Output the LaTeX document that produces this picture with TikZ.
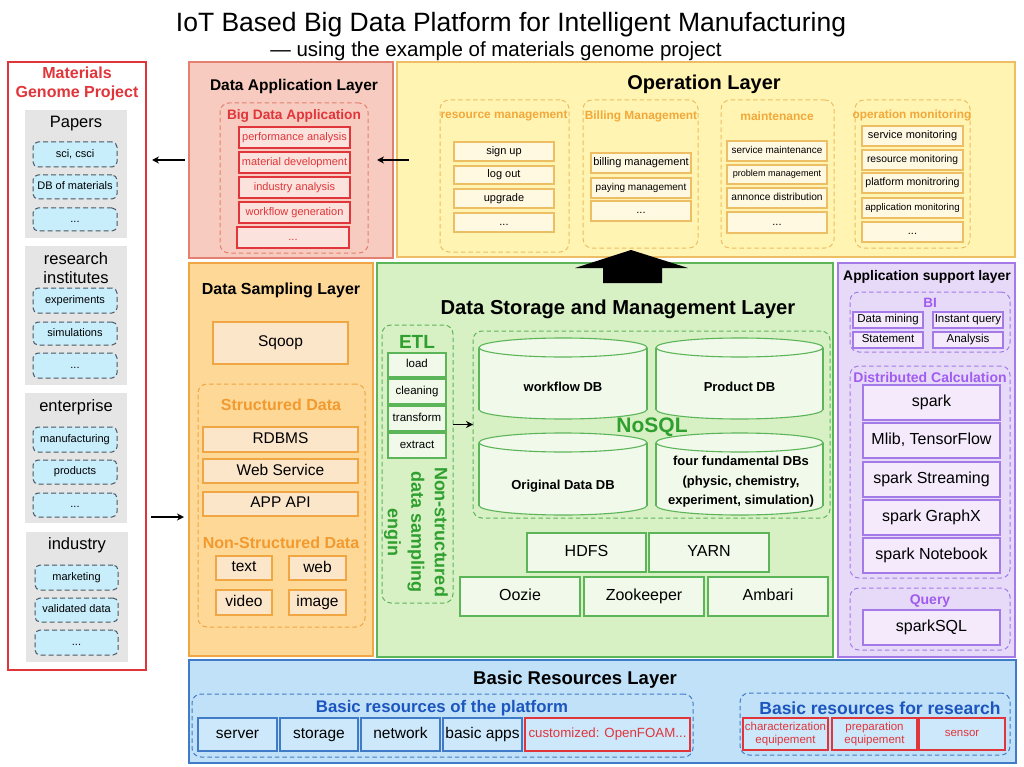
\documentclass[tikz,border=0pt]{standalone}
\usepackage{fontspec}
\setmainfont{Liberation Sans}
\usetikzlibrary{arrows.meta}
\newcommand\fsz[2]{\fontsize{#1}{#2}\selectfont}
\newcommand\bx[7]{\node[#1, minimum width={(#5-#3)*1pt}, minimum height={(#6-#4)*1pt}] (#2) at ({(#3+#5)/2},{(#4+#6)/2}) {\vphantom{Apg}#7};}
\newcommand\cylshape[4]{%
 \pgfmathsetmacro\cx{(#1+#3)/2}\pgfmathsetmacro\rx{(#3-#1)/2}%
 \pgfmathsetmacro\ya{#2+9.5}\pgfmathsetmacro\yb{#4-9.5}%
 \filldraw[cyl] (\cx,\yb) ellipse [x radius=\rx pt, y radius=9.5pt];
 \fill[gnI] (#1,\ya) rectangle (#3,\yb);
 \draw[cyl] (#1,\ya) -- (#1,\yb) (#3,\ya) -- (#3,\yb);
 \filldraw[cyl] (\cx,\ya) ellipse [x radius=\rx pt, y radius=9.5pt];
}
\definecolor{opF}{HTML}{FFF4B2}
\definecolor{opD}{HTML}{EDBE63}
\definecolor{opI}{HTML}{FFF9E2}
\definecolor{opT}{HTML}{F2A83A}
\definecolor{apF}{HTML}{F8CBC0}
\definecolor{apD}{HTML}{E3806F}
\definecolor{apI}{HTML}{FBE2DC}
\definecolor{redA}{HTML}{E0353A}
\definecolor{smF}{HTML}{FDD897}
\definecolor{smD}{HTML}{F0A642}
\definecolor{smI}{HTML}{FCE6CA}
\definecolor{smT}{HTML}{F39A2F}
\definecolor{gnF}{HTML}{D7F0C4}
\definecolor{gnD}{HTML}{5DB559}
\definecolor{gnI}{HTML}{F0F9EA}
\definecolor{gnT}{HTML}{2F9F2F}
\definecolor{puF}{HTML}{E7DAF8}
\definecolor{puD}{HTML}{A47AE8}
\definecolor{puI}{HTML}{F4EAFC}
\definecolor{puT}{HTML}{A05CF0}
\definecolor{blF}{HTML}{C1E1F9}
\definecolor{blD}{HTML}{3F7BC6}
\definecolor{blI}{HTML}{CDE8FB}
\definecolor{blT}{HTML}{1C55BE}
\definecolor{grF}{HTML}{E5E5E5}
\definecolor{cyF}{HTML}{C8EEFC}
\definecolor{cyD}{HTML}{4B5561}
\begin{document}
\begin{tikzpicture}[x=1pt,y=-1pt,
 every node/.style={inner sep=0pt, outer sep=0pt, align=center},
 lay/.style n args={2}{draw=#2, fill=#1, line width=1.1pt},
 grp/.style={draw=#1, dash pattern=on 4.5pt off 3pt, rounded corners=9pt, line width=1pt},
 itm/.style n args={3}{draw=#2, fill=#1, text=#3, line width=1.1pt},
 ltitle/.style={font=\bfseries\fsz{#1}{#1}},
 gtitle/.style={font=\fsz{16.5}{19.5}},
 cyit/.style={draw=cyD, fill=cyF, dash pattern=on 5pt off 3pt, rounded corners=5pt, line width=1pt, font=\fsz{11}{13}},
 apit/.style={itm={apI}{redA}{redA}, font=\fsz{11}{13}},
 opit/.style={itm={opI}{opD}{black}, font=\fsz{11}{13}},
 smit/.style={itm={smI}{smD}{black}, font=\fsz{15.5}{18}},
 gnit/.style={itm={gnI}{gnD}{black}, font=\fsz{16}{18}},
 puit/.style={itm={puI}{puD}{black}, font=\fsz{16}{18}},
 blit/.style={itm={blI}{blD}{black}, font=\fsz{15.5}{18}},
 rdit/.style={itm={blI}{redA}{redA}, font=\fsz{11.5}{13.5}},
 cyl/.style={draw=gnD, fill=gnI, line width=1.1pt},
 arr/.style={-{Stealth[length=7pt,width=7pt]}, line width=1.3pt}]
\useasboundingbox (0,0) rectangle (1024,767);
\fill[white] (0,0) rectangle (1024,767);

% titles
\node[anchor=base, font=\fsz{26.5}{30}] (title) at (511,32) {IoT Based Big Data Platform for Intelligent Manufacturing};
\node[anchor=base, font=\fsz{20.5}{24}] (subtitle) at (496,57) {— using the example of materials genome project};

% Materials Genome Project
\bx{lay={white}{redA}}{mgp}{8}{62}{146}{670}{}
\node[font=\bfseries\fsz{16}{19}, text=redA] (mgpt) at (77,84) {Materials\\Genome Project};
\bx{fill=grF}{papers}{25}{110}{127}{238}{}
\node[gtitle] (paperst) at (76,124) {Papers};
\bx{cyit}{p1}{33}{142}{117}{167}{sci, csci}
\bx{cyit}{p2}{33}{175}{117}{199}{DB of materials}
\bx{cyit}{p3}{33}{208}{117}{231}{...}
\bx{fill=grF}{research}{25}{246}{127}{385}{}
\node[gtitle] (researcht) at (76,268) {research\\institutes};
\bx{cyit}{r1}{33}{288}{117}{313}{experiments}
\bx{cyit}{r2}{33}{322}{117}{345}{simulations}
\bx{cyit}{r3}{33}{353}{117}{378}{...}
\bx{fill=grF}{enterprise}{25}{393}{127}{523}{}
\node[gtitle] (enterpriset) at (76,407) {enterprise};
\bx{cyit}{e1}{33}{427}{117}{452}{manufacturing}
\bx{cyit}{e2}{33}{460}{117}{484}{products}
\bx{cyit}{e3}{33}{493}{117}{517}{...}
\bx{fill=grF}{industry}{26}{532}{128}{662}{}
\node[gtitle] (industryt) at (77,545) {industry};
\bx{cyit}{i1}{35}{565}{118}{590}{marketing}
\bx{cyit}{i2}{35}{598}{118}{622}{validated data}
\bx{cyit}{i3}{35}{630}{118}{655}{...}

% Data Application Layer
\bx{lay={apF}{apD}}{dal}{189}{62}{393}{258}{}
\node[ltitle=15.5] (dalt) at (294,86) {Data Application Layer};
\bx{grp=apD}{bda}{220}{103}{368}{253}{}
\node[ltitle=13.7, text=redA] (bdat) at (294,116) {Big Data Application};
\bx{apit}{a1}{239}{127}{350}{148}{performance analysis}
\bx{apit}{a2}{239}{152}{350}{173}{material development}
\bx{apit}{a3}{239}{177}{350}{198}{industry analysis}
\bx{apit}{a4}{239}{202}{350}{223}{workflow generation}
\bx{apit}{a5}{237}{227}{349}{248}{...}

% Operation Layer
\bx{lay={opF}{opD}}{opl}{397}{62}{1015}{257}{}
\node[ltitle=20] (oplt) at (704,84) {Operation Layer};
\bx{grp=opD}{rm}{440}{100}{569}{252}{}
\node[ltitle=11.9, text=opT] (rmt) at (504,116) {resource management};
\bx{opit}{rm1}{454}{142}{554}{161}{sign up}
\bx{opit}{rm2}{454}{166}{554}{184}{log out}
\bx{opit}{rm3}{454}{189}{554}{208}{upgrade}
\bx{opit}{rm4}{454}{213}{554}{232}{...}
\bx{grp=opD}{bm}{583}{100}{698}{248}{}
\node[ltitle=11.9, text=opT] (bmt) at (641,116) {Billing Management};
\bx{opit}{bm1}{591}{153}{691}{173}{billing management}
\bx{opit,font=\fsz{10}{12}}{bm2}{591}{178}{691}{198}{paying management}
\bx{opit}{bm3}{591}{201}{691}{221}{...}
\bx{grp=opD}{mt}{721}{100}{834}{248}{}
\node[ltitle=12, text=opT] (mtt) at (777,116) {maintenance};
\bx{opit,font=\fsz{9.9}{12}}{mt1}{727}{141}{827}{161}{service maintenance}
\bx{opit,font=\fsz{9.1}{11}}{mt2}{727}{165}{827}{184}{problem management}
\bx{opit,font=\fsz{10.2}{12}}{mt3}{727}{188}{827}{208}{annonce distribution}
\bx{opit}{mt4}{727}{212}{827}{233}{...}
\bx{grp=opD}{om}{855}{100}{970}{248}{}
\node[ltitle=11.8, text=opT] (omt) at (912,115) {operation monitoring};
\bx{opit}{om1}{862}{126}{963}{146}{service monitoring}
\bx{opit,font=\fsz{10.3}{12}}{om2}{862}{150}{963}{170}{resource monitoring}
\bx{opit,font=\fsz{10.6}{12}}{om3}{862}{173}{963}{193}{platform monitroring}
\bx{opit,font=\fsz{9.7}{12}}{om4}{862}{198}{963}{218}{application monitoring}
\bx{opit}{om5}{862}{222}{963}{242}{...}

% Data Sampling Layer
\bx{lay={smF}{smD}}{dsl}{189}{263}{373}{656}{}
\node[ltitle=16] (dslt) at (281,290) {Data Sampling Layer};
\bx{smit}{sqoop}{213}{322}{348}{364}{Sqoop}
\bx{grp=smD}{sdg}{198}{384}{365}{627}{}
\node[ltitle=16, text=smT] (sdt) at (281,405) {Structured Data};
\bx{smit}{s1}{203}{427}{358}{452}{RDBMS}
\bx{smit}{s2}{203}{459}{358}{483}{Web Service}
\bx{smit}{s3}{203}{492}{358}{516}{APP API}
\node[ltitle=16, text=smT] (nsdt) at (281,543) {Non-Structured Data};
\bx{smit}{n1}{216}{556}{272}{580}{text}
\bx{smit}{n2}{289}{556}{346}{580}{web}
\bx{smit}{n3}{216}{590}{272}{615}{video}
\bx{smit}{n4}{289}{590}{346}{615}{image}

% Data Storage and Management Layer
\bx{lay={gnF}{gnD}}{dsm}{377}{263}{833}{657}{}
\node[ltitle=20.2] (dsmt) at (618,309) {Data Storage and Management Layer};
\bx{grp=gnD}{etl}{382}{325}{453}{603}{}
\node[ltitle=19, text=gnT] (etlt) at (417,342) {ETL};
\bx{gnit,font=\fsz{11.5}{13}}{etl1}{388}{353}{446}{377}{load}
\bx{gnit,font=\fsz{11.5}{13}}{etl2}{388}{379}{446}{404}{cleaning}
\bx{gnit,font=\fsz{11.5}{13}}{etl3}{388}{406}{446}{431}{transform}
\bx{gnit,font=\fsz{11.5}{13}}{etl4}{388}{433}{446}{458}{extract}
\node[rotate=-90, font=\bfseries\fsz{18}{23.5}, text=gnT] (nsde) at (416,532) {Non-structured\\data sampling\\engin};
\bx{grp=gnD}{nosql}{473}{331}{830}{518}{}
\cylshape{479}{338}{647}{419}
\cylshape{656}{338}{823}{419}
\cylshape{479}{433}{647}{515}
\cylshape{656}{433}{823}{515}
\node[font=\bfseries\fsz{13}{16}] (wfdb) at (563,387) {workflow DB};
\node[font=\bfseries\fsz{13}{16}] (proddb) at (739.5,387) {Product DB};
\node[font=\bfseries\fsz{13}{16}] (origdb) at (563,486) {Original Data DB};
\node[font=\bfseries\fsz{13}{19.5}] (fourdb) at (741,482) {four fundamental DBs\\(physic, chemistry,\\experiment, simulation)};
\node[ltitle=21, text=gnT] (nosqlt) at (652,427) {NoSQL};
\bx{gnit}{hdfs}{527}{533}{646}{572}{HDFS}
\bx{gnit}{yarn}{649}{533}{769}{572}{YARN}
\bx{gnit}{oozie}{460}{577}{580}{616}{Oozie}
\bx{gnit}{zoo}{584}{577}{704}{616}{Zookeeper}
\bx{gnit}{ambari}{708}{577}{828}{616}{Ambari}

% Application support layer
\bx{lay={puF}{puD}}{asl}{838}{263}{1015}{657}{}
\node[ltitle=13.9] (aslt) at (927,277) {Application support layer};
\bx{grp=puD}{bi}{850}{292}{1010}{352}{}
\node[ltitle=13.5, text=puT] (bit) at (930,303) {BI};
\bx{puit,font=\fsz{11.5}{13}}{bi1}{853}{312}{923}{328}{Data mining}
\bx{puit,font=\fsz{11.5}{13}}{bi2}{933}{312}{1003}{328}{Instant query}
\bx{puit,font=\fsz{11.5}{13}}{bi3}{853}{332}{923}{348}{Statement}
\bx{puit,font=\fsz{11.5}{13}}{bi4}{933}{332}{1003}{348}{Analysis}
\bx{grp=puD}{dc}{850}{366}{1010}{578}{}
\node[ltitle=14, text=puT] (dct) at (930,377) {Distributed Calculation};
\bx{puit}{dc1}{863}{385}{1000}{420}{spark}
\bx{puit}{dc2}{863}{423}{1000}{458}{Mlib, TensorFlow}
\bx{puit}{dc3}{863}{462}{1000}{497}{spark Streaming}
\bx{puit}{dc4}{863}{500}{1000}{535}{spark GraphX}
\bx{puit}{dc5}{863}{538}{1000}{573}{spark Notebook}
\bx{grp=puD}{qry}{850}{588}{1010}{650}{}
\node[ltitle=14, text=puT] (qryt) at (930,601) {Query};
\bx{puit}{sql}{863}{610}{1000}{645}{sparkSQL}

% Basic Resources Layer
\bx{lay={blF}{blD}}{brl}{189}{660}{1016}{763}{}
\node[ltitle=18.5] (brlt) at (575,680) {Basic Resources Layer};
\bx{grp=blD}{plat}{192}{694}{693}{757}{}
\node[ltitle=16.8, text=blT] (platt) at (442,708) {Basic resources of the platform};
\bx{blit}{b1}{198}{718}{277}{751}{server}
\bx{blit}{b2}{280}{718}{358}{751}{storage}
\bx{blit}{b3}{361}{718}{440}{751}{network}
\bx{blit}{b4}{443}{718}{522}{751}{basic apps}
\bx{rdit,font=\fsz{13.3}{15}}{b5}{525}{718}{690}{751}{customized: OpenFOAM...}
\bx{grp=blD}{rsch}{740}{693}{1010}{755}{}
\node[ltitle=17.5, text=blT] (rscht) at (880,708) {Basic resources for research};
\bx{rdit}{c1}{743}{718}{828}{750}{characterization\\equipement}
\bx{rdit}{c2}{832}{718}{917}{750}{preparation\\equipement}
\bx{rdit}{c3}{919}{718}{1005}{750}{sensor}

% connectors
\coordinate (inY) at (160,517);
\draw[arr] ([xshift=-4pt]dal.west) -- ([xshift=6pt]mgp.east |- dal.west);
\draw[arr] ([xshift=12pt]opl.west |- dal.west) -- ([xshift=-16pt]dal.east);
\draw[arr] ([xshift=5pt]mgp.east |- inY) -- ([xshift=-5pt]dsl.west |- inY);
\draw[arr] (nosql.west -| etl.east) -- (nosql.west);
% big up arrow
\fill[black] (603,283) -- (603,268) -- (575,268) -- (631,250) -- (688,268) -- (662,268) -- (662,283) -- cycle;
\end{tikzpicture}
\end{document}
